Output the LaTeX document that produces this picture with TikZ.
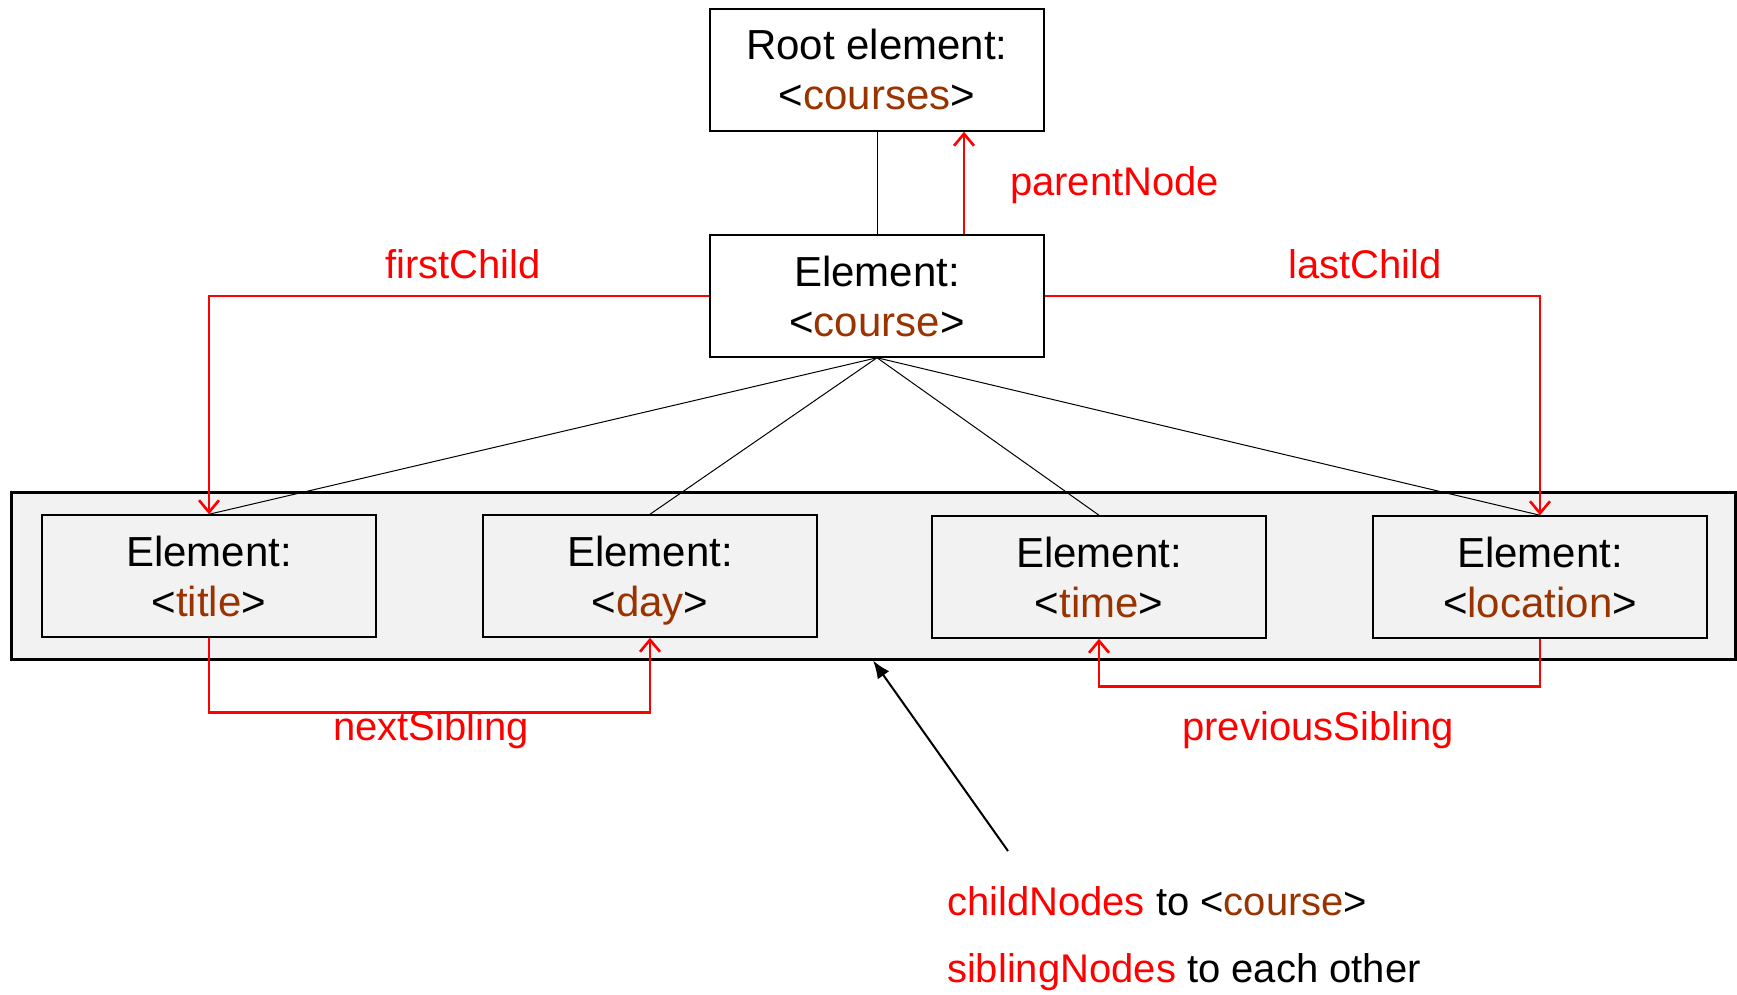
\documentclass[tikz,border=0pt]{standalone}
\usepackage{fontspec}
\setmainfont{Liberation Sans}
\usetikzlibrary{positioning,arrows.meta}

\definecolor{tagbrown}{HTML}{993300}
\definecolor{ptrred}{HTML}{FF0000}
\definecolor{groupgray}{HTML}{F2F2F2}

\newcommand{\tagname}[1]{<\textcolor{tagbrown}{#1}>}
\newcommand{\boxstrut}{\rule[-5pt]{0pt}{25pt}}
\newcommand{\elemtext}[2]{\boxstrut #1\\\boxstrut\tagname{#2}}

\begin{document}
\begin{tikzpicture}[
    x=0.5pt,y=-0.5pt,
    elem/.style={draw,line width=0.75pt,minimum width=167pt,minimum height=61pt,
        align=center,font=\fontsize{21}{25}\selectfont},
    ptrlabel/.style={text=ptrred,font=\fontsize{20}{24}\selectfont},
    ptr/.style={draw=ptrred,line width=1.3pt,-{Straight Barb[length=6pt,width=10pt]}},
    tree/.style={line width=0.5pt}
]
\useasboundingbox (0,0) rectangle (1737,995);

% the children of <course>
\node[draw,line width=1.5pt,fill=groupgray,minimum width=862pt,minimum height=83.5pt]
    (children) at (873,575.5) {};

\node[elem] (root) at (877,70) {\elemtext{Root element:}{courses}};
\node[elem] (course) at (877,296) {\elemtext{Element:}{course}};
\node[elem] (title) at (209,576) {\elemtext{Element:}{title}};
\node[elem] (day) at (650,576) {\elemtext{Element:}{day}};
\node[elem] (time) at (1099,577) {\elemtext{Element:}{time}};
\node[elem] (location) at (1540,577) {\elemtext{Element:}{location}};

\draw[tree] (root) -- (course);
\foreach \child in {title,day,time,location}
    \draw[tree] (course.south) -- (\child.north);

% pointers
\draw[ptr] ([xshift=43.5pt]course.north) -- ([xshift=43.5pt]root.south);
\draw[ptr] (course.west) -| (title.north);
\draw[ptr] (course.east) -| (location.north);
\draw[ptr] (title.south) -- ++(0,75) -| (day.south);
\draw[ptr] (location.south) -- ++(0,48) -| (time.south);

\node[ptrlabel,anchor=west] (parentlbl) at (1003,185) {parentNode};
\node[ptrlabel] (firstlbl) at (463,264) {firstChild};
\node[ptrlabel] (lastlbl) at (1365,264) {lastChild};
\node[ptrlabel] (nextlbl) at (431,730) {nextSibling};
\node[ptrlabel] (prevlbl) at (1318,730) {previousSibling};

% note on the group
\coordinate (pointer) at (1008,851);
\draw[line width=1pt,-{Latex[length=9pt,width=7pt]}] (pointer) -- (children.south);
\node[ptrlabel,anchor=west] (childnote) at (940,901)
    {childNodes \textcolor{black}{to \tagname{course}}};
\node[ptrlabel,anchor=west] (siblingnote) at (940,972)
    {siblingNodes \textcolor{black}{to each other}};

\end{tikzpicture}
\end{document}
